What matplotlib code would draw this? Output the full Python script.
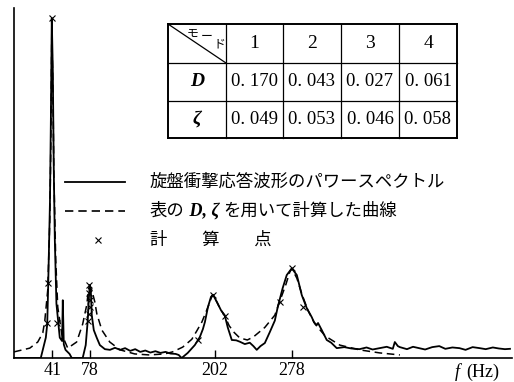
"""
Power spectrum of lathe impact response with fitted curve
"""

import numpy as np
import matplotlib
matplotlib.use('Agg')
import matplotlib.pyplot as plt

# measured spectrum (f [Hz], relative amplitude)
solid_pts = [
    (3, 0), (29.5, 0), (34.5, 6), (35.9, 10), (36.9, 22), (38.6, 46), (39.5, 70),
    (40.4, 100), (41.4, 85), (42.4, 55), (43.4, 35), (45, 16), (48.3, 6), (50.6, 5),
    (51.3, 17), (52.3, 4), (54, 2.4), (58, 1.2), (60.2, 0), (71, 0), (74, 3.8), (76, 11),
    (77, 17), (78, 21.5), (79, 20), (80, 12.6), (82, 8.2), (85, 5.9), (88, 3.8),
    (93, 2.6), (98, 2.4), (103, 3.0), (108, 2.4), (113, 2.9), (118, 2.1), (123, 2.6),
    (128, 1.8), (133, 2.2), (138, 1.6), (143, 2.0), (148, 1.5), (153, 1.8), (158, 1.3),
    (163, 1.2), (166, 0.9), (169, 0), (175, 1.5), (182, 3.8), (187, 6.2), (190, 8.5),
    (192, 10.6), (195, 15), (198, 18), (200, 18.6), (202, 17.5), (204.7, 16), (208, 14),
    (211.6, 12.6), (214.6, 9), (218.6, 5.3), (223, 5.2), (226.5, 4.8), (231.5, 4.1),
    (236.4, 4.5), (240, 3.5), (243.3, 2.4), (247, 3.5), (251.3, 4.4), (256.2, 7.6),
    (261.2, 11), (264.1, 15), (269, 20.6), (273, 24.4), (278, 26.4), (283, 24.4),
    (287.9, 18.5), (292.8, 14.7), (297.8, 12), (300, 10.5), (302.7, 9.7), (304, 10.3),
    (307.7, 8.2), (312.6, 5.3), (317, 4.5), (322.5, 2.9), (330, 3.2), (337, 2.8),
    (345, 2.6), (352, 3.1), (358, 2.5), (365, 2.9), (372, 3.3), (378, 2.7), (380, 4.7),
    (383, 3.5), (385, 3.2), (392, 2.6), (398, 3.3), (404, 2.9), (410, 2.5), (417, 3.2),
    (424, 3.5), (430, 2.7), (437, 3.1), (444, 2.9), (450, 2.4), (457, 3.2), (464, 2.9),
    (470, 2.6), (477, 3.1), (483, 2.8), (489, 2.6), (494, 2.7),
]

# curve computed with D, zeta from the table
dashed_pts = [
    (3, 1.8), (18.6, 2.9), (26.5, 4.7), (31.5, 7.4), (33.5, 11), (36.4, 20), (38.4, 40),
    (39.4, 61), (40.4, 96), (41.4, 82), (42.4, 55), (44.3, 29), (46.3, 15), (50.3, 7),
    (56.2, 2.9), (65, 4.7), (71, 10), (75, 15.6), (77, 20.6), (78, 21), (80, 20),
    (83, 16.5), (85, 13), (90, 8.2), (97.8, 4.7), (108, 2.4), (122.5, 1.2), (137, 0.9),
    (152, 1.2), (160, 1.8), (170, 3.2), (179, 5.5), (184, 8), (189, 10.6), (193, 13.5),
    (197, 16.5), (199, 18.4), (200, 18.6), (203, 17), (207, 14.5), (211.6, 12.4),
    (216, 9.5), (221, 7.5), (226.5, 5.9), (234, 5.3), (240, 6.2), (251.3, 9),
    (261.2, 12.6), (266, 16.6), (272, 21.5), (276, 25.3), (278, 26.3), (283, 23.5),
    (288, 18.8), (294, 14), (301, 10), (311, 6.5), (325.5, 3.8), (345, 2.4), (365, 1.5),
    (385, 0.9),
]

# calculated points
cross_pts = [
    (40.4, 100), (36.6, 22), (35.9, 10.3), (46, 10.3),
    (77.5, 21.5), (77.5, 19), (77.8, 17), (77.8, 15), (77.5, 13), (76.5, 11),
    (200, 18.6), (212.2, 12.4), (185, 5.2),
    (278, 26.4), (266, 16.6), (289, 15),
]

tick_freqs = [41, 78, 202, 278]

modes = ['1', '2', '3', '4']
D_vals = ['0. 170', '0. 043', '0. 027', '0. 061']
zeta_vals = ['0. 049', '0. 053', '0. 046', '0. 058']

serif = ['Liberation Serif', 'DejaVu Serif']
jp = ['Noto Sans CJK JP', 'DejaVu Sans']

fig = plt.figure(figsize=(5.14, 3.82), dpi=100)
ax = fig.add_axes([14 / 514, 24 / 382, 498 / 514, 350 / 382])

fs, vs = np.array(solid_pts).T
fd, vd = np.array(dashed_pts).T
fc, vc = np.array(cross_pts).T
ax.plot(fs, vs, color='black', lw=1.3)
ax.plot(fd, vd, color='black', lw=1.1, ls=(0, (5, 3)))
ax.plot(fc, vc, ls='none', marker='x', color='black', ms=4, mew=0.8)

ax.set_xlim(3, 496)
ax.set_ylim(0, 103)
for s in ['top', 'right']:
    ax.spines[s].set_visible(False)
ax.spines['left'].set_linewidth(1.2)
ax.spines['bottom'].set_linewidth(1.2)
ax.set_yticks([])
ax.set_xticks(tick_freqs)
ax.set_xticklabels([str(t) for t in tick_freqs], family=serif, fontsize=13)
ax.tick_params(axis='x', direction='in', length=6, width=1, pad=3)

# overlay in pixel coordinates for table, legend and axis label
ov = fig.add_axes([0, 0, 1, 1], zorder=5)
ov.set_xlim(0, 514)
ov.set_ylim(382, 0)
ov.axis('off')

ov.text(455, 372, 'f', family=serif, style='italic', fontsize=13, ha='left', va='center')
ov.text(466, 372, '(Hz)', family=serif, fontsize=13, ha='left', va='center')

# table
xs = [168, 226, 283, 341, 399, 457]
ys = [24, 63, 101, 138]
for x in xs:
    lw = 1.4 if x in (xs[0], xs[-1]) else 0.9
    ov.plot([x, x], [ys[0], ys[-1]], color='black', lw=lw)
for y in ys:
    lw = 1.4 if y in (ys[0], ys[-1]) else 0.9
    ov.plot([xs[0], xs[-1]], [y, y], color='black', lw=lw)
ov.plot([xs[0], xs[1]], [ys[0], ys[1]], color='black', lw=0.9)
ov.text(193, 33, 'モ', family=jp, fontsize=8.5, ha='center', va='center')
ov.text(207, 36, 'ー', family=jp, fontsize=8.5, ha='center', va='center')
ov.text(219, 44, 'ド', family=jp, fontsize=8.5, ha='center', va='center')

cx = [(xs[i] + xs[i + 1]) / 2 for i in range(5)]
cy = [(ys[i] + ys[i + 1]) / 2 for i in range(3)]
for i, m in enumerate(modes):
    ov.text(cx[i + 1], cy[0], m, family=serif, fontsize=14, ha='center', va='center')
    ov.text(cx[i + 1], cy[1], D_vals[i], family=serif, fontsize=13.5, ha='center', va='center')
    ov.text(cx[i + 1], cy[2], zeta_vals[i], family=serif, fontsize=13.5, ha='center', va='center')
ov.text(cx[0], cy[1], 'D', family=serif, style='italic', weight='bold', fontsize=14,
        ha='center', va='center')
ov.text(cx[0], cy[2], 'ζ', family=serif, style='italic', weight='bold', fontsize=14,
        ha='center', va='center')

# legend
ov.plot([65, 125], [182, 182], color='black', lw=1.3)
ov.plot([65, 125], [211, 211], color='black', lw=1.2, ls=(0, (5, 3)))
ov.plot([98], [240], ls='none', marker='x', color='black', ms=4, mew=0.8)
ov.text(150, 182, '旋盤衝撃応答波形のパワースペクトル', family=jp, fontsize=12.5,
        ha='left', va='center')
t1 = ov.text(150, 211, '表の', family=jp, fontsize=12.5, ha='left', va='center')
t2 = ov.annotate(' D, ζ ', xy=(1, 0.5), xycoords=t1, family=serif, style='italic',
                 weight='bold', fontsize=13, ha='left', va='center')
ov.annotate('を用いて計算した曲線', xy=(1, 0.5), xycoords=t2, family=jp, fontsize=12.5,
            ha='left', va='center')
ov.text(150, 240, '計\u3000\u3000算\u3000\u3000点', family=jp, fontsize=12.5,
        ha='left', va='center')

fig.savefig('out.png', dpi=100)
